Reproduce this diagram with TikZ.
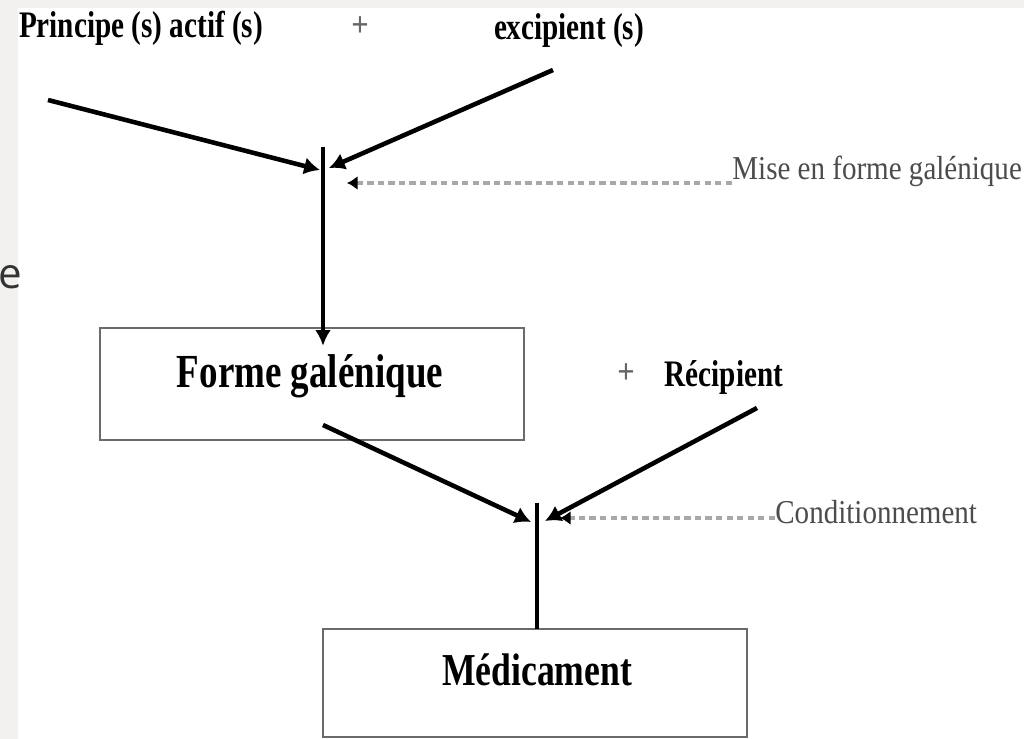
\documentclass[tikz,border=0pt]{standalone}
\usepackage{fontspec}
\usepackage{tikz}
\usetikzlibrary{arrows.meta}
\newfontfamily\labfont[FakeStretch=0.78]{Liberation Serif}
\newfontfamily\notefont[FakeStretch=0.87]{Liberation Serif}
\newfontfamily\strayfont{Open Sans}
\definecolor{strip}{HTML}{F2F1EF}
\definecolor{boxgray}{HTML}{6A6A6A}
\definecolor{dotgray}{HTML}{A8A8A8}
\newlength{\pxu}
\setlength{\pxu}{0.567pt}
\tikzset{
  flow/.style={line width=2.6pt,-{Latex[length=9pt,width=10pt]}},
  stem/.style={line width=2pt},
  dots/.style={dotgray,line width=2.8pt,dash pattern=on 3.6pt off 2.4pt,
    -{Latex[length=6pt,width=8pt,black]}},
  etape/.style={draw=boxgray,line width=1.6pt},
  titre/.style={font=\labfont\bfseries\fontsize{21.3}{25}\selectfont,inner sep=0pt},
  note/.style={font=\notefont\fontsize{19}{23}\selectfont,text=black!70,inner sep=0pt},
  plus/.style={font=\notefont\bfseries\fontsize{20}{24}\selectfont,text=black!60,inner sep=0pt}
}
\begin{document}
\begin{tikzpicture}[x=0.02cm,y=-0.02cm]
\useasboundingbox (0,0) rectangle (1024,739);
\fill[strip] (0,0) rectangle (1024,739);
\fill[white] (18,8) rectangle (1024,739);
\node[font=\strayfont\fontsize{24}{28}\selectfont,text=black!80,inner sep=0pt,anchor=base] (bout) at (10,289) {e};
% inputs
\node[titre,anchor=base] (actif) at (141,38) {Principe (s) actif (s)};
\node[plus] (plus1) at (360,27) {+};
\node[titre,anchor=base] (excip) at (569,40) {excipient (s)};
\coordinate (actifpt) at (48,100);
\coordinate (excippt) at (553,70);
\coordinate (jun1) at (323,147);
\coordinate (jun1l) at (320,170);
\coordinate (jun1r) at (329,168);
\coordinate (jun1d) at (347,183);
% first step
\node[note,anchor=base west] (mise) at (732,180) {Mise en forme galénique};
\draw[etape] (100,328) rectangle (524,440);
\node[minimum width=424\pxu,minimum height=112\pxu,inner sep=0pt] (forme) at (312,384) {};
\node[font=\labfont\bfseries\fontsize{27}{31}\selectfont,inner sep=0pt,anchor=base] (formetxt) at (310,388) {Forme galénique};
\node[plus] (plus2) at (626,374) {+};
\node[titre,anchor=base] (recip) at (724,387) {Récipient};
\coordinate (formept) at (323,425);
\coordinate (recippt) at (757,408);
\coordinate (jun2) at (537,503);
\coordinate (jun2l) at (531,522);
\coordinate (jun2r) at (545,521);
\coordinate (jun2d) at (560,518);
% second step
\node[note,anchor=base west] (cond) at (775,523) {Conditionnement};
\draw[etape] (323,629) rectangle (747,737);
\node[minimum width=424\pxu,minimum height=108\pxu,inner sep=0pt] (medic) at (535,683) {};
\node[font=\labfont\bfseries\fontsize{26}{30}\selectfont,inner sep=0pt,anchor=base] (medictxt) at (537,685) {Médicament};
% connectors
\draw[flow] (actifpt) -- (jun1l);
\draw[flow] (excippt) -- (jun1r);
\draw[stem,-{Latex[length=9pt,width=9pt]}] (jun1) -- (forme.north -| jun1) -- ++(0,18);
\draw[dots] (mise.west |- jun1d) -- (jun1d);
\draw[flow] (formept) -- (jun2l);
\draw[flow] (recippt) -- (jun2r);
\draw[stem] (jun2) -- (medic.north -| jun2);
\draw[dots] (cond.west |- jun2d) -- (jun2d);
\end{tikzpicture}
\end{document}
